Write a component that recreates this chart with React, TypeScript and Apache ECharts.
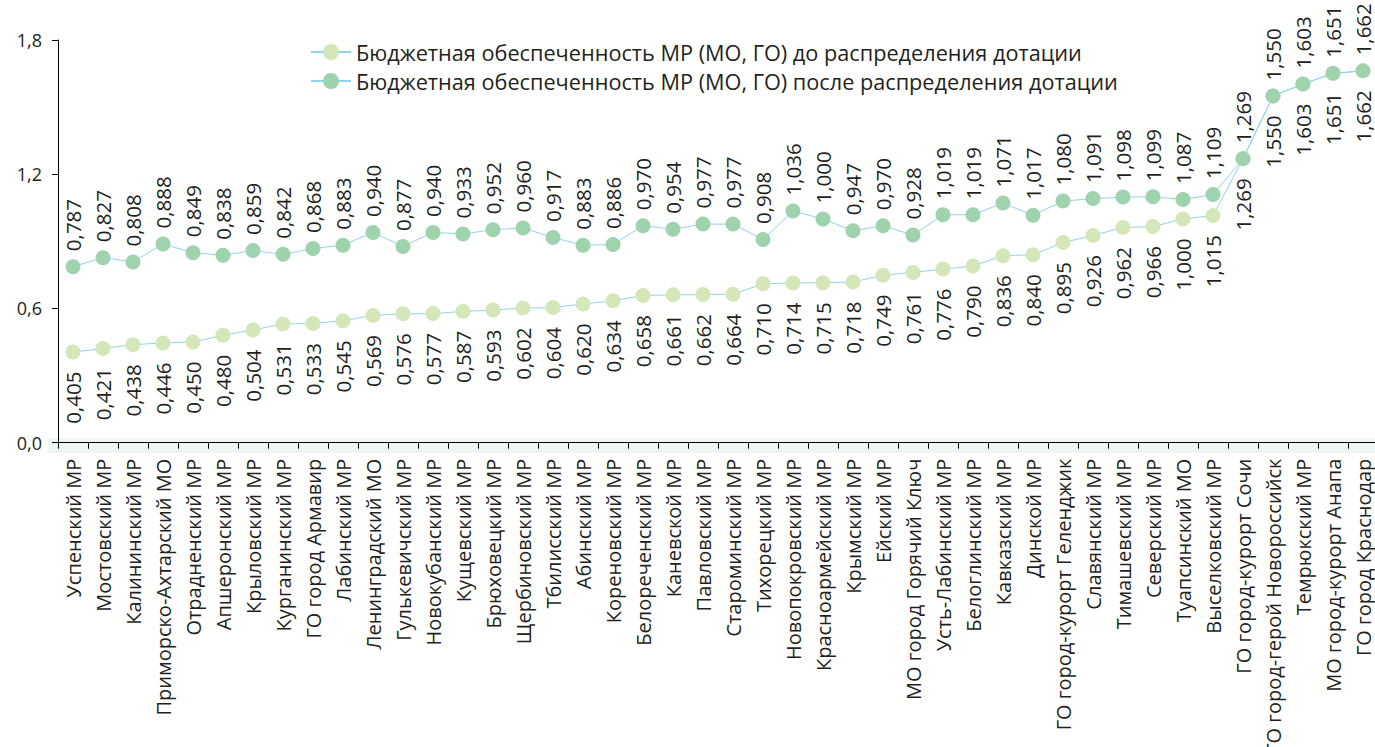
import React, { useEffect, useRef } from "react";
import * as echarts from "echarts";

const categories: string[] = [
  "Успенский МР", "Мостовский МР", "Калининский МР", "Приморско-Ахтарский МО",
  "Отрадненский МР", "Апшеронский МР", "Крыловский МР", "Курганинский МР",
  "ГО город Армавир", "Лабинский МР", "Ленинградский МО", "Гулькевичский МР",
  "Новокубанский МР", "Кущевский МР", "Брюховецкий МР", "Щербиновский МР",
  "Тбилисский МР", "Абинский МР", "Кореновский МР", "Белореченский МР",
  "Каневской МР", "Павловский МР", "Староминский МР", "Тихорецкий МР",
  "Новопокровский МР", "Красноармейский МР", "Крымский МР", "Ейский МР",
  "МО город Горячий Ключ", "Усть-Лабинский МР", "Белоглинский МР", "Кавказский МР",
  "Динской МР", "ГО город-курорт Геленджик", "Славянский МР", "Тимашевский МР",
  "Северский МР", "Туапсинский МО", "Выселковский МР", "ГО город-курорт Сочи",
  "ГО город-герой Новороссийск", "Темрюкский МР", "МО город-курорт Анапа", "ГО город Краснодар",
];

const beforeValues: number[] = [
  0.405, 0.421, 0.438, 0.446, 0.450, 0.480, 0.504, 0.531, 0.533, 0.545,
  0.569, 0.576, 0.577, 0.587, 0.593, 0.602, 0.604, 0.620, 0.634, 0.658,
  0.661, 0.662, 0.664, 0.710, 0.714, 0.715, 0.718, 0.749, 0.761, 0.776,
  0.790, 0.836, 0.840, 0.895, 0.926, 0.962, 0.966, 1.000, 1.015, 1.269,
  1.550, 1.603, 1.651, 1.662,
];

const afterValues: number[] = [
  0.787, 0.827, 0.808, 0.888, 0.849, 0.838, 0.859, 0.842, 0.868, 0.883,
  0.940, 0.877, 0.940, 0.933, 0.952, 0.960, 0.917, 0.883, 0.886, 0.970,
  0.954, 0.977, 0.977, 0.908, 1.036, 1.000, 0.947, 0.970, 0.928, 1.019,
  1.019, 1.071, 1.017, 1.080, 1.091, 1.098, 1.099, 1.087, 1.109, 1.269,
  1.550, 1.603, 1.651, 1.662,
];

const seriesNames: string[] = [
  "Бюджетная обеспеченность МР (МО, ГО) до распределения дотации",
  "Бюджетная обеспеченность МР (МО, ГО) после распределения дотации",
];

const yTicks = { min: 0, max: 1.8, interval: 0.6 };

const FONT = "'Open Sans', 'Noto Sans', sans-serif";
const TEXT = "#231f20";

export default function App() {
  const ref = useRef<HTMLDivElement>(null);

  useEffect(() => {
    if (!ref.current) return;
    const chart = echarts.init(ref.current, null, { renderer: "svg" });
    const fmt3 = (p: any) => Number(p.value).toFixed(3).replace(".", ",");
    const option: any = {
      animation: false,
      textStyle: { fontFamily: FONT, color: TEXT },
      graphic: [
        {
          type: "rect",
          z: -10,
          silent: true,
          shape: { x: 48, y: 438, width: 1330, height: 15 },
          style: { fill: "#edf6f0" },
        },
      ],
      legend: {
        orient: "vertical",
        left: 305,
        top: 36,
        itemWidth: 40,
        itemHeight: 20,
        itemGap: 7,
        textStyle: { fontFamily: FONT, fontSize: 21.7, color: TEXT },
        data: seriesNames,
      },
      grid: {
        left: 58,
        top: 40,
        width: 1320,
        height: 402.7,
        containLabel: false,
        outerBoundsMode: "none",
      },
      xAxis: {
        type: "category",
        data: categories,
        boundaryGap: true,
        axisLine: { show: true, lineStyle: { color: "#000", width: 1 } },
        axisTick: { show: true, length: 6, lineStyle: { color: "#000" } },
        axisLabel: {
          rotate: 90,
          interval: 0,
          margin: 16,
          fontFamily: FONT,
          fontSize: 20,
          color: TEXT,
        },
      },
      yAxis: {
        type: "value",
        min: yTicks.min,
        max: yTicks.max,
        interval: yTicks.interval,
        axisLine: { show: true, lineStyle: { color: "#000", width: 1 } },
        axisTick: { show: true, length: 6, lineStyle: { color: "#000" } },
        splitLine: { show: false },
        axisLabel: {
          margin: 16,
          fontFamily: FONT,
          fontSize: 18,
          color: TEXT,
          formatter: (v: number) => v.toFixed(1).replace(".", ","),
        },
      },
      series: [
        {
          name: seriesNames[0],
          type: "line",
          data: beforeValues,
          symbol: "circle",
          symbolSize: 15,
          lineStyle: { color: "#8fd3f0", width: 1 },
          itemStyle: { color: "#d3e7b9" },
          label: {
            show: true,
            position: "bottom",
            distance: 12,
            rotate: 90,
            align: "right",
            verticalAlign: "middle",
            fontFamily: FONT,
            fontSize: 20.5,
            color: TEXT,
            formatter: fmt3,
          },
          z: 2,
        },
        {
          name: seriesNames[1],
          type: "line",
          data: afterValues,
          symbol: "circle",
          symbolSize: 15,
          lineStyle: { color: "#8fd3f0", width: 1 },
          itemStyle: { color: "#9fd3ae" },
          label: {
            show: true,
            position: "top",
            distance: 8,
            rotate: 90,
            align: "left",
            verticalAlign: "middle",
            fontFamily: FONT,
            fontSize: 20.5,
            color: TEXT,
            formatter: fmt3,
          },
          z: 3,
        },
      ],
    };
    chart.setOption(option);
    return () => chart.dispose();
  }, []);

  return (
    <div
      ref={ref}
      style={{ position: "fixed", left: 0, top: 0, width: 1375, height: 747, background: "#fff" }}
    />
  );
}
